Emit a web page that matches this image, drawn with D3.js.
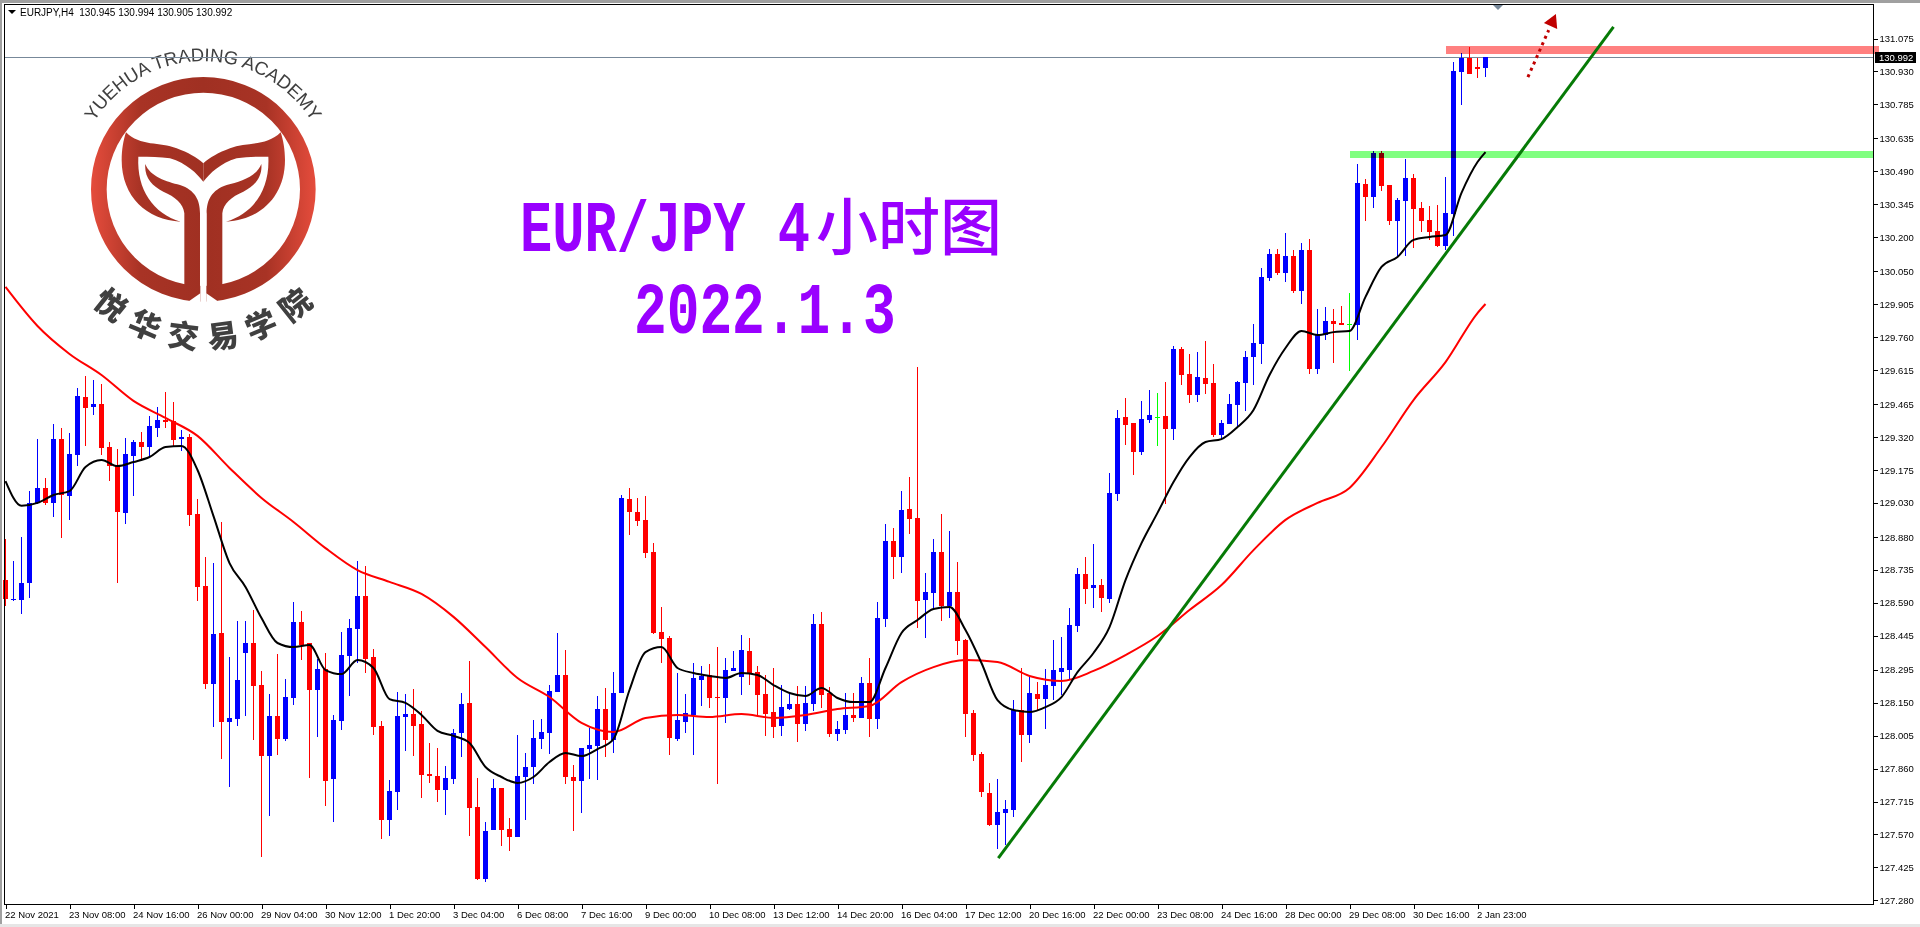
<!DOCTYPE html>
<html>
<head>
<meta charset="utf-8">
<title>EURJPY H4</title>
<script src="https://cdn.jsdelivr.net/npm/d3@7"></script>
<style>
  body { margin: 0; background: #fff; }
  svg { display: block; }
</style>
</head>
<body>
<div id="content"></div>
<script>
/* Values */
const OPEN = [
128.690,128.602,128.602,128.677,129.030,129.096,129.030,129.311,129.060,129.241,
129.496,129.452,129.465,129.276,129.197,128.986,129.237,129.298,129.276,129.360,
129.395,129.391,129.311,129.320,128.981,128.664,128.232,128.457,128.065,128.078,
128.369,128.413,128.228,127.915,128.092,127.990,128.171,128.506,128.413,128.206,
128.299,127.814,128.070,128.356,128.475,128.620,128.351,128.048,127.634,127.757,
128.087,128.100,128.056,127.836,127.827,127.766,127.814,128.017,128.149,127.691,
127.374,127.590,127.775,127.594,127.559,127.823,127.867,127.990,128.017,128.197,
128.272,127.823,127.805,127.946,127.959,128.122,127.986,128.193,129.047,128.990,
128.955,128.814,128.461,128.435,127.990,128.065,128.096,128.250,128.272,128.175,
128.171,128.290,128.263,128.378,128.285,128.188,128.109,128.048,128.122,128.144,
128.056,128.144,128.497,128.193,128.012,128.030,128.096,128.083,128.237,128.078,
128.519,128.862,128.791,129.003,128.963,128.602,128.633,128.814,128.576,128.638,
128.426,128.105,127.924,127.753,127.612,127.664,127.678,128.118,128.008,128.188,
128.166,128.224,128.285,128.294,128.488,128.717,128.655,128.668,128.607,129.069,
129.408,129.382,129.254,129.395,129.410,129.413,129.356,129.708,129.598,129.505,
129.580,129.558,129.329,129.377,129.461,129.558,129.672,129.730,130.020,130.126,
130.042,130.117,129.963,130.144,129.620,129.769,129.831,129.822,129.818,129.813,
130.434,130.377,130.571,130.430,130.271,130.360,130.461,130.329,130.276,130.227,
130.161,130.302,130.927,130.989,130.949,130.945];
const HIGH = [
128.871,128.774,128.880,129.082,129.311,129.140,129.377,129.360,129.338,129.536,
129.589,129.571,129.554,129.298,129.267,129.316,129.307,129.342,129.413,129.452,
129.518,129.474,129.351,129.333,129.047,128.791,128.765,128.946,128.351,128.510,
128.510,128.558,128.290,128.188,128.364,128.254,128.594,128.554,128.413,128.343,
128.369,128.096,128.461,128.519,128.774,128.752,128.387,128.070,127.810,128.197,
128.188,128.210,128.114,127.973,127.951,127.871,128.034,128.193,128.334,127.819,
127.625,127.814,127.775,127.642,128.008,127.929,128.074,128.078,128.228,128.457,
128.382,127.876,127.951,128.039,128.180,128.215,128.285,129.065,129.096,129.052,
129.060,128.853,128.572,128.444,128.281,128.188,128.325,128.312,128.321,128.395,
128.347,128.378,128.448,128.435,128.312,128.272,128.303,128.228,128.197,128.224,
128.224,128.541,128.550,128.219,128.070,128.193,128.193,128.263,128.347,128.594,
128.937,128.919,129.082,129.144,129.628,128.721,128.871,128.981,128.906,128.770,
128.431,128.118,127.933,127.797,127.814,127.722,128.162,128.303,128.272,128.241,
128.299,128.426,128.439,128.567,128.743,128.791,128.849,128.695,129.162,129.439,
129.492,129.382,129.479,129.527,129.514,129.562,129.721,129.716,129.685,129.694,
129.743,129.642,129.395,129.510,129.567,129.699,129.818,130.064,130.148,130.148,
130.218,130.144,130.174,130.192,129.884,129.893,129.884,129.897,129.954,130.522,
130.456,130.580,130.580,130.430,130.373,130.544,130.478,130.355,130.337,130.342,
130.465,130.971,131.011,131.037,130.989,130.994];
const LOW = [
128.576,128.598,128.541,128.611,129.026,129.021,128.968,128.875,128.955,129.192,
129.281,129.417,129.241,129.126,128.677,128.937,129.060,129.219,129.237,129.320,
129.360,129.281,129.259,128.928,128.598,128.210,128.043,127.902,127.779,128.048,
128.092,127.986,127.471,127.651,127.920,127.982,128.140,128.338,127.819,127.999,
127.695,127.625,128.030,128.180,128.325,128.281,128.008,127.550,127.563,127.678,
127.938,127.915,127.731,127.797,127.713,127.656,127.792,127.911,127.563,127.370,
127.361,127.590,127.519,127.497,127.559,127.634,127.792,127.946,127.924,128.197,
127.792,127.585,127.664,127.814,127.810,127.911,127.929,128.193,128.889,128.928,
128.787,128.453,128.325,127.920,127.982,128.017,127.920,128.136,128.127,127.792,
128.061,128.290,128.184,128.228,128.087,128.004,127.995,128.004,128.118,127.977,
128.026,128.114,128.127,127.999,127.982,128.012,128.065,128.083,127.999,128.034,
128.484,128.695,128.721,128.893,128.479,128.435,128.558,128.510,128.523,128.360,
127.999,127.894,127.735,127.607,127.506,127.523,127.647,127.889,127.973,128.118,
128.034,128.162,128.184,128.254,128.461,128.585,128.567,128.549,128.589,129.038,
129.285,129.153,129.241,129.382,129.281,129.026,129.307,129.549,129.470,129.474,
129.510,129.320,129.307,129.377,129.369,129.435,129.549,129.642,130.007,130.034,
130.003,129.954,129.906,129.598,129.598,129.747,129.646,129.813,129.611,129.747,
130.271,130.329,130.404,130.254,130.113,130.117,130.152,130.223,130.188,130.157,
130.144,130.205,130.782,130.919,130.901,130.905];
const CLOSE = [
128.606,128.606,128.677,129.030,129.096,129.030,129.311,129.065,129.245,129.501,
129.448,129.465,129.272,129.192,128.990,129.245,129.298,129.276,129.369,129.395,
129.386,129.307,129.320,128.977,128.660,128.232,128.453,128.065,128.083,128.250,
128.413,128.224,127.915,128.092,127.990,128.175,128.506,128.404,128.206,128.299,
127.805,128.074,128.360,128.479,128.620,128.343,128.043,127.634,127.761,128.092,
128.100,128.048,127.832,127.827,127.766,127.819,128.017,128.144,127.687,127.374,
127.585,127.775,127.590,127.559,127.827,127.867,127.995,128.021,128.202,128.272,
127.823,127.805,127.951,127.964,128.122,127.986,128.193,129.052,128.990,128.950,
128.809,128.457,128.431,127.995,128.074,128.105,128.259,128.268,128.171,128.171,
128.294,128.303,128.382,128.281,128.184,128.100,128.043,128.131,128.144,128.056,
128.149,128.497,128.184,128.012,128.034,128.096,128.083,128.237,128.078,128.523,
128.862,128.791,128.999,128.959,128.598,128.638,128.814,128.576,128.638,128.422,
128.100,127.920,127.757,127.612,127.669,127.682,128.118,128.008,128.193,128.166,
128.228,128.294,128.303,128.492,128.717,128.651,128.668,128.611,129.074,129.404,
129.373,129.254,129.399,129.417,129.410,129.356,129.708,129.593,129.505,129.584,
129.553,129.329,129.382,129.465,129.562,129.672,129.734,130.025,130.126,130.042,
130.117,129.963,130.144,129.620,129.769,129.831,129.818,129.813,129.818,130.439,
130.377,130.571,130.425,130.271,130.364,130.461,130.324,130.271,130.223,130.161,
130.307,130.932,130.989,130.919,130.941,130.992];

// moving averages, read at every 2nd / 4th bar plus the last one
const MA_FAST = [
129.126,129.017,129.030,129.065,129.082,129.188,129.219,129.192,129.210,129.232,
129.276,129.281,129.175,128.972,128.765,128.660,128.523,128.413,128.395,128.404,
128.294,128.276,128.338,128.303,128.166,128.149,128.096,128.026,128.004,127.973,
127.867,127.823,127.797,127.823,127.889,127.929,127.915,127.946,127.990,128.206,
128.373,128.395,128.303,128.281,128.268,128.259,128.281,128.272,128.228,128.193,
128.180,128.215,128.171,128.153,128.153,128.303,128.457,128.514,128.563,128.572,
128.470,128.325,128.162,128.118,128.109,128.131,128.175,128.285,128.369,128.483,
128.690,128.853,128.986,129.122,129.232,129.298,129.311,129.364,129.439,129.593,
129.712,129.787,129.769,129.782,129.787,129.937,130.069,130.113,130.188,130.201,
130.210,130.395,130.531,130.575];
const MA_SLOW = [
129.981,129.809,129.686,129.593,129.479,129.404,129.325,129.184,129.052,128.946,
128.831,128.734,128.682,128.629,128.528,128.395,128.259,128.175,128.061,128.021,
128.083,128.096,128.087,128.100,128.083,128.096,128.122,128.136,128.241,128.307,
128.338,128.329,128.268,128.246,128.290,128.360,128.444,128.558,128.668,128.822,
128.955,129.030,129.096,129.276,129.483,129.650,129.866,129.906];

const PRICE_TICKS = [131.075,130.930,130.785,130.635,130.490,130.345,130.200,130.050,129.905,
  129.760,129.615,129.465,129.320,129.175,129.030,128.880,128.735,128.590,128.445,128.295,
  128.150,128.005,127.860,127.715,127.570,127.425,127.280];
const TIME_LABELS = ["22 Nov 2021","23 Nov 08:00","24 Nov 16:00","26 Nov 00:00","29 Nov 04:00",
  "30 Nov 12:00","1 Dec 20:00","3 Dec 04:00","6 Dec 08:00","7 Dec 16:00","9 Dec 00:00",
  "10 Dec 08:00","13 Dec 12:00","14 Dec 20:00","16 Dec 04:00","17 Dec 12:00","20 Dec 16:00",
  "22 Dec 00:00","23 Dec 08:00","24 Dec 16:00","28 Dec 00:00","29 Dec 08:00","30 Dec 16:00",
  "2 Jan 23:00"];

const LAST_PRICE = 130.992;
const RESIST_BAND = {from: 180, to: 234.1, hi: 131.042, lo: 131.007};
const SUPPORT_BAND = {from: 168, to: 233.5, hi: 130.580, lo: 130.549};
const TREND = [[124.1, 127.466], [201, 131.126]];
const ARROW_SHAFT = [[190.3, 130.905], [192.9, 131.112]];
const ARROW_HEAD = [[193.8, 131.183], [192.3, 131.143], [193.96, 131.117]];

const WIDTH = 1920;
const HEIGHT = 927;
const FRAME = {left: 4.5, top: 4.5, right: 1873.5, bottom: 904.5};

const x = d3.scaleLinear().domain([0, 185]).range([5.5, 1485.5]);
const y = d3.scaleLinear().domain([127.28, 131.075]).range([900.3, 38.5]);

const svg = d3.select("#content").append("svg").attr("width", WIDTH).attr("height", HEIGHT);
const defs = svg.append("defs");

// window chrome
svg.append("rect").attr("width", WIDTH).attr("height", HEIGHT).attr("fill", "#fff");
svg.append("rect").attr("width", WIDTH).attr("height", 3).attr("fill", "#a0a0a0");
svg.append("rect").attr("width", 2).attr("height", HEIGHT).attr("fill", "#a0a0a0");
svg.append("rect").attr("y", 924).attr("width", WIDTH).attr("height", 3).attr("fill", "#e6e6e6");

// logo, drawn in zoomed coordinates and scaled down
const logo = svg.append("g").attr("class", "logo");
const grad = defs.append("linearGradient").attr("id", "logoGrad")
  .attr("gradientUnits", "userSpaceOnUse").attr("x1", 273).attr("x2", 947).attr("y1", 0).attr("y2", 0);
[[0, "#e54c3c"], [0.22, "#a83325"], [0.5, "#a03022"], [0.78, "#a83325"], [1, "#e54c3c"]].forEach((s) => {
  grad.append("stop").attr("offset", s[0]).attr("stop-color", s[1]);
});
const lg = logo.append("g").attr("transform", "scale(0.33333)");
lg.append("circle").attr("cx", 610).attr("cy", 568).attr("r", 313.5)
  .attr("fill", "none").attr("stroke", "url(#logoGrad)").attr("stroke-width", 47);
const cup = "M378,397 C420,440 480,425 530,445 C565,458 590,472 610,490 L610,545 C590,520 560,490 510,475 C480,470 450,470 415,470 C410,570 460,640 542,665 C440,660 365,590 365,480 C365,450 370,420 378,397 Z";
const leaf = "M436,492 C450,530 500,545 540,555 C585,570 600,600 600,640 L600,880 L570,902 L553,895 L553,640 C550,610 525,590 490,575 C455,558 432,530 436,492 Z";
[cup, leaf].forEach((d) => {
  lg.append("path").attr("d", d).attr("fill", "url(#logoGrad)");
  lg.append("path").attr("d", d).attr("fill", "url(#logoGrad)")
    .attr("transform", "translate(1220,0) scale(-1,1)");
});
lg.append("rect").attr("x", 601).attr("y", 640).attr("width", 18).attr("height", 268).attr("fill", "#fff");
lg.append("path").attr("d", "M601,880 L601,908 L560,908 Z").attr("fill", "#fff");
lg.append("path").attr("d", "M619,880 L619,908 L660,908 Z").attr("fill", "#fff");

defs.append("path").attr("id", "logoArc").attr("d", "M 79.4,155.9 A 128 128 0 0 1 326.6,155.9");
logo.append("text")
  .attr("font-family", "'Liberation Sans', Arial, sans-serif").attr("font-size", 18.5).attr("fill", "#3f3f3f")
  .append("textPath").attr("href", "#logoArc").attr("startOffset", "50%").attr("text-anchor", "middle")
  .text("YUEHUA TRADING ACADEMY");
const LOGO_CN = ["悦", "华", "交", "易", "学", "院"];
logo.selectAll("text.cn").data(LOGO_CN).enter().append("text").attr("class", "cn")
  .attr("text-anchor", "middle").attr("dominant-baseline", "central")
  .attr("font-family", "'Noto Sans CJK SC', sans-serif").attr("font-weight", 900).attr("font-size", 31)
  .attr("fill", "#404040")
  .attr("transform", (d, i) => {
    const a = 38.5 - i * 15.4;
    const r = 146;
    const px = 203 - r * Math.sin(a * Math.PI / 180);
    const py = 189 + r * Math.cos(a * Math.PI / 180);
    return "translate(" + px + "," + py + ") rotate(" + a + ")";
  })
  .text((d) => d);

// chart titles
const titleFont = "'Liberation Mono', monospace";
svg.append("text").attr("transform", "translate(520,251) scale(0.746,1)").attr("font-family", titleFont)
  .attr("font-weight", 700).attr("font-size", 72).attr("fill", "#9900ff")
  .text("EUR/JPY 4");
svg.append("text").attr("x", 816).attr("y", 250).attr("font-family", "'Noto Sans CJK SC', sans-serif")
  .attr("font-weight", 500).attr("font-size", 62).attr("fill", "#9900ff")
  .text("小时图");
svg.append("text").attr("transform", "translate(634,333) scale(0.757,1)").attr("font-family", titleFont)
  .attr("font-weight", 700).attr("font-size", 72).attr("fill", "#9900ff")
  .text("2022.1.3");

// last price line
svg.append("line").attr("x1", FRAME.left).attr("x2", FRAME.right)
  .attr("y1", Math.round(y(LAST_PRICE)) + 0.5).attr("y2", Math.round(y(LAST_PRICE)) + 0.5)
  .attr("stroke", "#778899").attr("stroke-width", 1);

// candles
const candles = svg.append("g").attr("shape-rendering", "crispEdges");
const bars = d3.range(OPEN.length);
const barColor = (i) => OPEN[i] === CLOSE[i] ? "#00ff00" : (CLOSE[i] > OPEN[i] ? "#0000ff" : "#ff0000");
candles.selectAll("line").data(bars).enter().append("line")
  .attr("x1", (i) => x(i)).attr("x2", (i) => x(i))
  .attr("y1", (i) => Math.round(y(HIGH[i]))).attr("y2", (i) => Math.round(y(LOW[i])))
  .attr("stroke", barColor).attr("stroke-width", 1);
candles.selectAll("rect").data(bars).enter().append("rect")
  .attr("x", (i) => x(i) - 2.5).attr("width", 5)
  .attr("y", (i) => Math.round(y(Math.max(OPEN[i], CLOSE[i]))))
  .attr("height", (i) => Math.max(1, Math.round(y(Math.min(OPEN[i], CLOSE[i]))) - Math.round(y(Math.max(OPEN[i], CLOSE[i])))))
  .attr("fill", barColor);

// moving averages
const fastIdx = d3.range(0, 185, 2).concat([185]);
const slowIdx = d3.range(0, 185, 4).concat([185]);
const maLine = (idx) => d3.line().curve(d3.curveMonotoneX).x((d, k) => x(idx[k])).y((d) => y(d));
svg.append("path").attr("d", maLine(slowIdx)(MA_SLOW)).attr("fill", "none")
  .attr("stroke", "#ff0000").attr("stroke-width", 2);
svg.append("path").attr("d", maLine(fastIdx)(MA_FAST)).attr("fill", "none")
  .attr("stroke", "#000").attr("stroke-width", 2);

// bands over the candles
[RESIST_BAND, SUPPORT_BAND].forEach((b, k) => {
  svg.append("rect").attr("x", Math.round(x(b.from))).attr("y", Math.round(y(b.hi)))
    .attr("width", Math.round(x(b.to) - x(b.from)))
    .attr("height", Math.round(y(b.lo) - y(b.hi)))
    .attr("fill", k === 0 ? "#ff8080" : "#80ff80")
    .style("mix-blend-mode", "multiply");
});

// trend line and arrow
const pt = d3.line().x((d) => x(d[0])).y((d) => y(d[1]));
svg.append("path").attr("d", pt(TREND)).attr("stroke", "#067a06").attr("stroke-width", 3).attr("fill", "none");
svg.append("path").attr("d", pt(ARROW_SHAFT)).attr("stroke", "#c00000").attr("stroke-width", 3)
  .attr("stroke-dasharray", "3 4").attr("fill", "none");
svg.append("path").attr("d", pt(ARROW_HEAD) + "Z").attr("fill", "#c00000");

// frame and axes
svg.append("rect").attr("x", FRAME.left).attr("y", FRAME.top)
  .attr("width", FRAME.right - FRAME.left).attr("height", FRAME.bottom - FRAME.top)
  .attr("fill", "none").attr("stroke", "#000").attr("stroke-width", 1);

const axisFont = "'Liberation Sans', Arial, sans-serif";
const yAxis = svg.append("g").attr("transform", "translate(" + FRAME.right + ",0)")
  .call(d3.axisRight(y).tickValues(PRICE_TICKS).tickFormat(d3.format(".3f")).tickSize(4).tickPadding(2));
const xAxis = svg.append("g").attr("transform", "translate(0," + FRAME.bottom + ")")
  .call(d3.axisBottom(x).tickValues(d3.range(TIME_LABELS.length).map((k) => k * 8))
    .tickFormat((d) => TIME_LABELS[d / 8]).tickSize(4).tickPadding(3));
[yAxis, xAxis].forEach((a) => {
  a.select(".domain").remove();
  a.selectAll("text").attr("font-family", axisFont).attr("font-size", 9.5).attr("fill", "#000");
  a.selectAll("line").attr("shape-rendering", "crispEdges");
});
xAxis.selectAll("text").attr("text-anchor", "start").attr("x", -1);

// last price tag
svg.append("rect").attr("x", 1875).attr("y", 52).attr("width", 41).attr("height", 11).attr("fill", "#000");
svg.append("text").attr("x", 1879).attr("y", Math.round(y(LAST_PRICE)) + 4).attr("font-family", axisFont)
  .attr("font-size", 9.5).attr("fill", "#fff").text(d3.format(".3f")(LAST_PRICE));

// header line and small chart markers
svg.append("path").attr("d", "M8,10 L16,10 L12,14 Z").attr("fill", "#000");
svg.append("text").attr("x", 20).attr("y", 16).attr("font-family", axisFont).attr("font-size", 10).attr("fill", "#000")
  .attr("xml:space", "preserve").text("EURJPY,H4  130.945 130.994 130.905 130.992");
svg.append("path").attr("d", "M1493,5 L1503,5 L1498,10 Z").attr("fill", "#778899");
</script>
</body>
</html>
